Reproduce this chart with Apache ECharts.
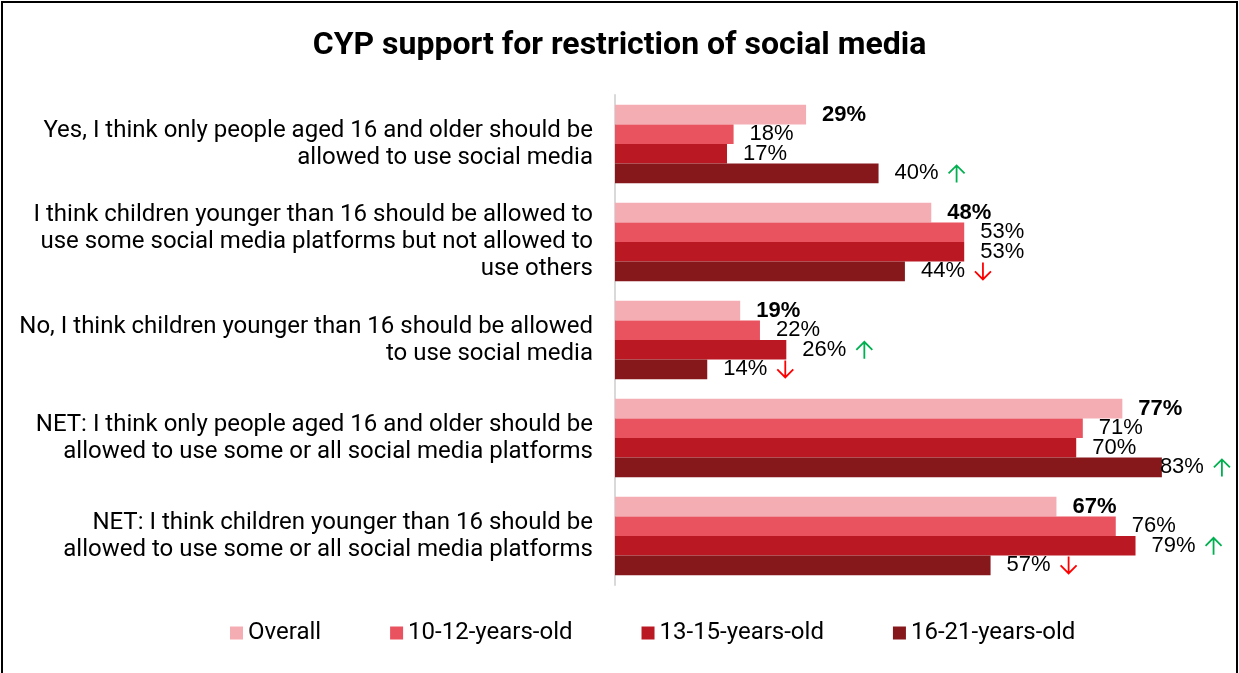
<!DOCTYPE html>
<html>
<head>
<meta charset="utf-8">
<script src="https://cdn.jsdelivr.net/npm/echarts@6/dist/echarts.min.js"></script>
<style>
  html, body { margin: 0; padding: 0; background: #fff; }
  #chart { width: 1239px; height: 673px; }
</style>
</head>
<body>
<div id="chart"></div>
<script>
// Survey answers (top to bottom)
const categories = [
  'Yes, I think only people aged 16 and older should be\nallowed to use social media',
  'I think children younger than 16 should be allowed to\nuse some social media platforms but not allowed to\nuse others',
  'No, I think children younger than 16 should be allowed\nto use social media',
  'NET: I think only people aged 16 and older should be\nallowed to use some or all social media platforms',
  'NET: I think children younger than 16 should be\nallowed to use some or all social media platforms'
];

const seriesNames = ['Overall', '10-12-years-old', '13-15-years-old', '16-21-years-old'];

// Percentages per age group
const overall = [29, 48, 19, 77, 67];
const age10to12 = [18, 53, 22, 71, 76];
const age13to15 = [17, 53, 26, 70, 79];
const age16to21 = [40, 44, 14, 83, 57];

// Significance markers against overall: 'up', 'down' or ''
const trend10to12 = ['', '', '', '', ''];
const trend13to15 = ['', '', 'up', '', 'up'];
const trend16to21 = ['up', 'down', 'down', 'up', 'down'];

const colors = ['#F4ADB3', '#E9525F', '#BA1822', '#86181C'];

const seriesValues = [overall, age10to12, age13to15, age16to21];
const seriesTrends = [null, trend10to12, trend13to15, trend16to21];

// Thin open-headed arrow icons used after significant values
function arrowIcon(color, pointsUp) {
  const path = pointsUp
    ? 'M10 19 L10 2 M2 10 L10 2 L18 10'
    : 'M10 1 L10 18 M2 10 L10 18 L18 10';
  const svg = '<svg xmlns="http://www.w3.org/2000/svg" width="20" height="20" viewBox="0 0 20 20">' +
    '<path d="' + path + '" fill="none" stroke="' + color + '" stroke-width="1.8"/></svg>';
  return 'data:image/svg+xml;charset=utf-8,' + encodeURIComponent(svg);
}
const upIcon = arrowIcon('#00B050', true);
const downIcon = arrowIcon('#FF0000', false);

function makeSeries(idx) {
  const values = seriesValues[idx];
  const trends = seriesTrends[idx];
  const bold = idx === 0;
  return {
    name: seriesNames[idx],
    type: 'bar',
    barGap: '0%',
    barCategoryGap: '20%',
    itemStyle: { color: colors[idx] },
    data: values.map(function (v, i) {
      const item = { value: v };
      // the longest bar's label sits tucked against the bar end
      if (idx === 3 && i === 3) {
        item.label = { offset: [-18, 0] };
      }
      return item;
    }),
    label: {
      show: true,
      position: 'right',
      distance: 16,
      fontFamily: 'Liberation Sans, Arial, sans-serif',
      fontSize: 22,
      fontWeight: bold ? 'bold' : 'normal',
      color: '#000',
      formatter: function (p) {
        let s = p.value + '%';
        const t = trends ? trends[p.dataIndex] : '';
        if (t === 'up') s += '{gap| }{up| }';
        else if (t === 'down') s += '{gap| }{down| }';
        return s;
      },
      rich: {
        gap: { width: 8 },
        up: { width: 20, height: 20, backgroundColor: { image: upIcon } },
        down: { width: 20, height: 20, backgroundColor: { image: downIcon } }
      }
    }
  };
}

const chart = echarts.init(document.getElementById('chart'), null, { renderer: 'canvas' });

chart.setOption({
  animation: false,
  backgroundColor: '#fff',
  title: {
    text: 'CYP support for restriction of social media',
    left: 'center',
    top: 25,
    textStyle: {
      fontFamily: 'Roboto, sans-serif',
      fontSize: 32,
      fontWeight: 'bold',
      color: '#000'
    }
  },
  legend: {
    data: seriesNames,
    left: 225,
    top: 616,
    itemWidth: 13,
    itemHeight: 13,
    itemGap: 69,
    icon: 'rect',
    textStyle: {
      fontFamily: 'Roboto, sans-serif',
      fontSize: 24,
      color: '#000',
      padding: 0
    }
  },
  grid: {
    left: 615,
    right: 31,
    top: 95,
    bottom: 88,
    containLabel: false
  },
  xAxis: {
    type: 'value',
    min: 0,
    max: 90,
    show: false,
    splitLine: { show: false }
  },
  yAxis: {
    type: 'category',
    inverse: true,
    data: categories,
    axisLine: { show: true, lineStyle: { color: '#D9D9D9', width: 2 } },
    axisTick: { show: false },
    axisLabel: {
      margin: 22,
      fontFamily: 'Roboto, sans-serif',
      fontSize: 24,
      lineHeight: 27,
      color: '#000',
      align: 'right'
    }
  },
  graphic: [{
    type: 'rect',
    shape: { x: 2, y: 2, width: 1235, height: 700 },
    style: { fill: 'none', stroke: '#000', lineWidth: 2 },
    silent: true,
    z: 100
  }],
  series: [0, 1, 2, 3].map(makeSeries)
});
</script>
</body>
</html>
